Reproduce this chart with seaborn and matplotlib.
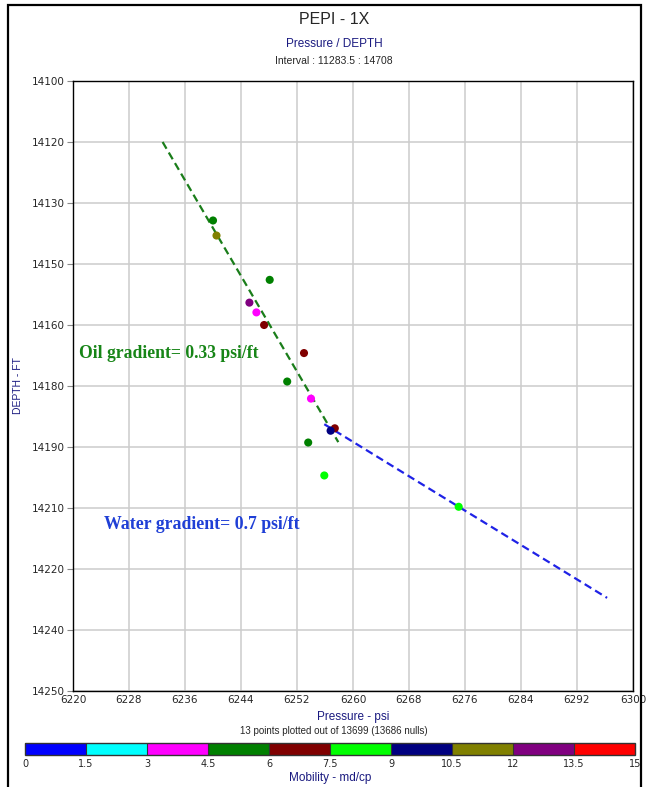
import matplotlib
matplotlib.use("Agg")
import matplotlib.pyplot as plt
import matplotlib.colors as mcolors
import matplotlib.cm as cm
import seaborn as sns
import pandas as pd
import numpy as np

# ---------------- data ----------------
pressure = [6240.0, 6240.5, 6248.1, 6245.2, 6246.2, 6247.3, 6253.0, 6250.6,
            6254.0, 6257.4, 6256.8, 6253.6, 6255.9, 6275.1]
depth = [14134.3, 14138.0, 14148.9, 14154.5, 14156.9, 14160.0, 14166.9, 14173.9,
         14178.1, 14185.4, 14186.0, 14188.9, 14197.0, 14204.7]
mobility = [5.2, 11.0, 5.2, 12.8, 3.8, 6.8, 6.8, 5.2,
            3.8, 6.8, 9.8, 5.2, 8.2, 8.2]

oil_line_p = [6232.8, 6257.9]
oil_line_d = [14115.0, 14188.8]
water_line_p = [6255.9, 6296.3]
water_line_d = [14184.4, 14227.1]

x_ticks = [6220, 6228, 6236, 6244, 6252, 6260, 6268, 6276, 6284, 6292, 6300]
y_ticks = [14100, 14115, 14130, 14145, 14160, 14175, 14190, 14205, 14220, 14235, 14250]
y_tick_labels = ["14100", "14120", "14130", "14150", "14160", "14180",
                 "14190", "14210", "14220", "14240", "14250"]

mob_bounds = [0, 1.5, 3, 4.5, 6, 7.5, 9, 10.5, 12, 13.5, 15]
mob_labels = ["0", "1.5", "3", "4.5", "6", "7.5", "9", "10.5", "12", "13.5", "15"]
mob_colors = ["#0000ff", "#00ffff", "#ff00ff", "#008000", "#800000",
              "#00ff00", "#000080", "#808000", "#800080", "#ff0000"]

# ---------------- style ----------------
sns.set_theme(style="white")
plt.rcParams['font.family'] = ['Liberation Sans', 'DejaVu Sans']

W, H = 651, 787
fig = plt.figure(figsize=(W / 100, H / 100), dpi=100)

cmap = mcolors.ListedColormap(mob_colors)
norm = mcolors.BoundaryNorm(mob_bounds, cmap.N)
pt_colors = [mcolors.to_hex(cmap(norm(m))) for m in mobility]
df = pd.DataFrame({"Pressure": pressure, "Depth": depth, "col": pt_colors})

ax = fig.add_axes([73 / W, 1 - 691 / H, 560 / W, 610 / H])

ax.plot(oil_line_p, oil_line_d, color="#1a7d1a", lw=1.6, ls=(0, (3.5, 2)), zorder=2)
ax.plot(water_line_p, water_line_d, color="#1f22e6", lw=1.6, ls=(0, (3.5, 2)), zorder=2)

sns.scatterplot(data=df, x="Pressure", y="Depth", hue="col",
                palette={c: c for c in set(pt_colors)}, s=34, linewidth=0,
                legend=False, ax=ax, zorder=3)

ax.set_xlim(6220, 6300)
ax.set_ylim(14250, 14100)
ax.set_xticks(x_ticks)
ax.set_xticklabels([str(v) for v in x_ticks], family="DejaVu Sans", fontsize=7.5)
ax.set_yticks(y_ticks)
ax.set_yticklabels(y_tick_labels, family="DejaVu Sans", fontsize=7.5)
ax.grid(True, color="#cccccc", lw=1.1)
ax.set_axisbelow(True)
for s in ax.spines.values():
    s.set_color("black")
    s.set_linewidth(1.0)
ax.tick_params(axis="y", which="major", length=4, width=0.8, color="#888888", pad=2, left=True)
ax.tick_params(axis="x", which="major", length=0, pad=3, bottom=True)

ax.set_xlabel("Pressure - psi", color="#1a1a80", fontsize=8.5, labelpad=4)
ax.set_ylabel("DEPTH - FT", color="#1a1a80", fontsize=7.5)
ax.yaxis.set_label_coords((23 - 73) / 560, 0.5)

ax.text(6220.9, 14167, "Oil gradient= 0.33 psi/ft", family="Liberation Serif",
        fontweight="bold", color="#178517", fontsize=12.7, va="center", ha="left")
ax.text(6224.5, 14209, "Water gradient= 0.7 psi/ft", family="Liberation Serif",
        fontweight="bold", color="#1f3fd6", fontsize=12.8, va="center", ha="left")

# titles
fig.text(334 / W, 1 - 20 / H, "PEPI - 1X", ha="center", va="center", fontsize=11.5)
fig.text(334 / W, 1 - 44 / H, "Pressure / DEPTH", ha="center", va="center",
         fontsize=8.5, color="#1a1a80")
fig.text(334 / W, 1 - 61 / H, "Interval : 11283.5 : 14708", ha="center", va="center",
         fontsize=7.5)
fig.text(334 / W, 1 - 731 / H, "13 points plotted out of 13699 (13686 nulls)",
         ha="center", va="center", fontsize=7)

# colorbar
cax = fig.add_axes([25 / W, 1 - 755 / H, 610 / W, 12 / H])
sm = cm.ScalarMappable(norm=norm, cmap=cmap)
cb = fig.colorbar(sm, cax=cax, orientation="horizontal", ticks=mob_bounds, drawedges=True)
cb.outline.set_edgecolor("#333333")
cb.outline.set_linewidth(1.0)
cb.dividers.set_color("#333333")
cb.dividers.set_linewidth(0.8)
cax.set_xticklabels(mob_labels, family="DejaVu Sans", fontsize=7)
cax.tick_params(length=0, pad=3)
cax.set_xlabel("Mobility - md/cp", color="#1a1a80", fontsize=8.5, labelpad=2)

# outer frame
frame = plt.Rectangle((8 / W, -0.01), (641 - 8) / W, 1 - 5 / H + 0.01,
                      transform=fig.transFigure, fill=False, edgecolor="black",
                      lw=1.6, zorder=10)
fig.add_artist(frame)

fig.savefig("out.png", dpi=100)
